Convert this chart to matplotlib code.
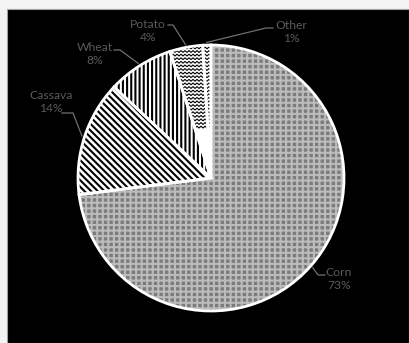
import numpy as np
import matplotlib.pyplot as plt
from matplotlib.patches import Rectangle

plt.rcParams['font.family'] = ['Lato', 'DejaVu Sans']
plt.rcParams['hatch.linewidth'] = 1.5

# crop shares (%)
crops = ["Corn", "Cassava", "Wheat", "Potato", "Other"]
shares = [73, 14, 8, 4, 1]

W, H = 409, 343
cx, cy, r = 211, H - 178, 133

# label centres and leader elbows, in pixels from the top-left
label_xy = {"Corn": (339, 279), "Cassava": (51, 102), "Wheat": (95, 54),
            "Potato": (148, 31), "Other": (291, 32)}
leader_pts = {"Corn": [(325, 275), (318, 275)],
              "Cassava": [(62, 113), (73, 113)],
              "Wheat": [(114, 50), (120, 50)],
              "Potato": [(168, 25), (173, 25)],
              "Other": [(273, 28), (266, 28)]}

fig = plt.figure(figsize=(4.09, 3.43), dpi=100, facecolor='#f3f3f3')
ax = fig.add_axes([0, 0, 1, 1])
ax.set_xlim(0, W)
ax.set_ylim(0, H)
ax.axis('off')

# dark panel
ax.add_patch(Rectangle((7, 0), W - 7, H - 9, facecolor='black',
                       edgecolor='#a0a0a0', lw=0.8, zorder=0))

faces = ['#7c7c7c', 'white', 'white', 'white', 'white']
hatch_cols = ['#bcbcbc', 'black', 'black', 'white', 'white']
hatches = ['+++', '\\' * 5, '|' * 4, '', '']

wedges, _ = ax.pie(shares, startangle=90, counterclock=False,
                   center=(cx, cy), radius=r, frame=False)
for w, fc, hc, h in zip(wedges, faces, hatch_cols, hatches):
    w.set_facecolor(fc)
    w.set_edgecolor(hc)
    w.set_hatch(h)
    w.set_linewidth(0)
    w.set_zorder(1)

# wavy texture for potato / other
for w in wedges[3:]:
    xs = np.arange(cx - 60, cx + 10, 2.0)
    zig = np.where(np.arange(len(xs)) % 2 == 0, 0, 1.8)
    for y0 in np.arange(cy + 50, cy + r + 4, 3.6):
        ln, = ax.plot(xs, y0 + zig, color='black', lw=0.8, zorder=2)
        ln.set_clip_path(w)

# white outlines
outline, _ = ax.pie(shares, startangle=90, counterclock=False,
                    center=(cx, cy), radius=r, frame=False,
                    wedgeprops=dict(facecolor='none', edgecolor='white', lw=2))
for w in outline:
    w.set_zorder(3)

ax.set_xlim(0, W)
ax.set_ylim(0, H)
ax.set_aspect('equal')

for w, name, val in zip(wedges, crops, shares):
    mid = np.deg2rad((w.theta1 + w.theta2) / 2)
    ex = cx + 1.02 * r * np.cos(mid)
    ey = cy + 1.02 * r * np.sin(mid)
    pts = leader_pts[name]
    xs = [p[0] for p in pts] + [ex]
    ys = [H - p[1] for p in pts] + [ey]
    ax.plot(xs, ys, color='#707070', lw=0.9, zorder=4)
    tx, ty = label_xy[name]
    ax.text(tx, H - ty, f"{name}\n{val}%", color='#5a5a5a', fontsize=8.7,
            ha='center', va='center', linespacing=1.25, zorder=4)

fig.savefig('out.png', dpi=100, facecolor=fig.get_facecolor())
